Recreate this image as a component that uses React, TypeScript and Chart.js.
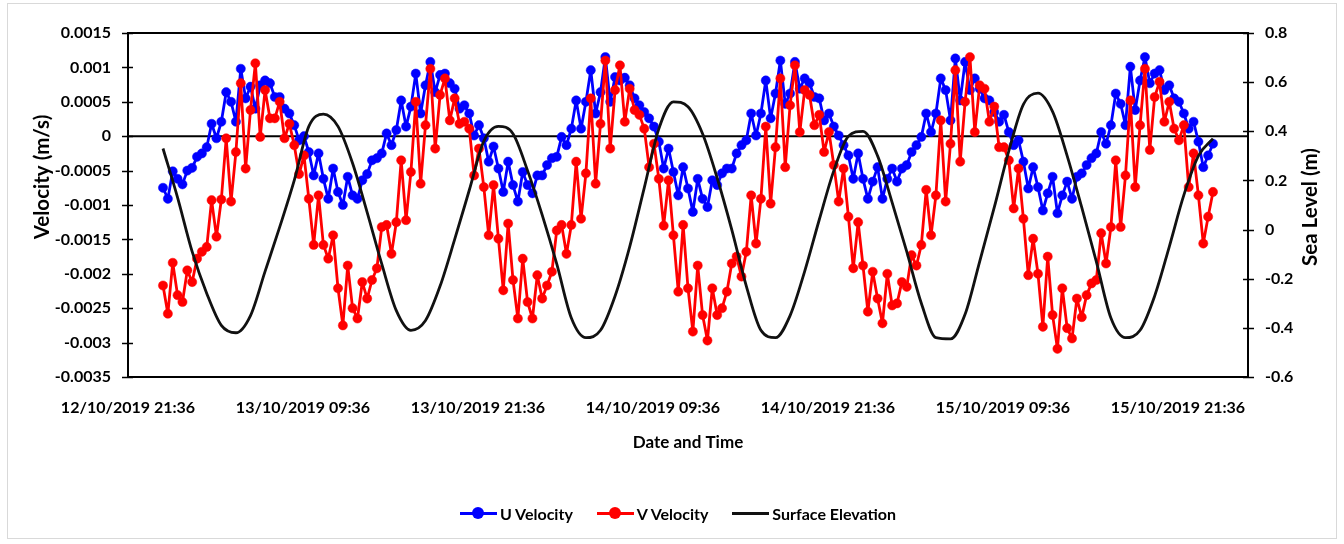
import React, { useEffect, useRef } from 'react';
import { Chart, registerables } from 'chart.js';

Chart.register(...registerables);

// ---------- axis definitions ----------
// x values are hours counted from 12/10/2019 21:36
const X_MIN_HOURS = 0;
const X_MAX_HOURS = 76.8;
const X_TICK_HOURS = [0, 12, 24, 36, 48, 60, 72];
const X_TICK_LABELS = [
  '12/10/2019 21:36',
  '13/10/2019 09:36',
  '13/10/2019 21:36',
  '14/10/2019 09:36',
  '14/10/2019 21:36',
  '15/10/2019 09:36',
  '15/10/2019 21:36',
];

const Y_LEFT_TICKS = [-0.0035, -0.003, -0.0025, -0.002, -0.0015, -0.001, -0.0005, 0, 0.0005, 0.001, 0.0015];
const Y_LEFT_LABELS = ['-0.0035', '-0.003', '-0.0025', '-0.002', '-0.0015', '-0.001', '-0.0005', '0', '0.0005', '0.001', '0.0015'];
const Y_RIGHT_TICKS = [-0.6, -0.4, -0.2, 0, 0.2, 0.4, 0.6, 0.8];
const Y_RIGHT_LABELS = ['-0.6', '-0.4', '-0.2', '0', '0.2', '0.4', '0.6', '0.8'];

// ---------- series ----------
// velocity samples: every 20 minutes from 13/10/2019 00:00
const VELOCITY_START_HOURS = 2.4;
const VELOCITY_STEP_HOURS = 1 / 3;
const VELOCITY_UNIT = 1e-4; // values below are in 1e-4 m/s

const U_VELOCITY = [
  -7.5, -9.1, -5.1, -6.2, -7.0, -5.0, -4.6, -3.0, -2.5, -1.6,
  1.8, -0.3, 2.1, 6.4, 5.0, 2.1, 9.8, 5.5, 7.2, 4.0,
  7.4, 8.1, 7.7, 5.7, 5.7, 4.0, 3.3, 1.6, -0.6, 0.0,
  -2.3, -5.7, -2.5, -6.2, -9.1, -4.7, -8.1, -10.0, -5.9, -8.6,
  -9.1, -6.4, -5.5, -3.5, -3.2, -2.5, 0.4, -1.3, 0.9, 5.2,
  1.4, 4.3, 9.1, 3.3, 7.4, 10.8, 6.4, 8.9, 9.1, 7.7,
  6.9, 4.0, 4.5, 3.3, 0.1, 1.6, -0.3, -3.7, -1.5, -4.7,
  -8.1, -3.7, -7.1, -9.5, -5.2, -7.1, -8.3, -5.7, -5.7, -4.2,
  -3.2, -3.0, -0.1, -1.3, 1.1, 5.2, 1.1, 5.0, 9.6, 3.3,
  6.4, 11.5, 5.0, 8.6, 8.1, 8.5, 7.4, 5.5, 4.5, 3.5,
  2.6, 1.4, -0.8, -4.7, -1.8, -5.2, -8.6, -4.5, -7.6, -11.0,
  -6.2, -9.1, -10.3, -6.4, -7.1, -5.4, -4.7, -4.7, -2.5, -1.3,
  -0.6, 3.3, 0.1, 3.3, 8.1, 2.6, 6.2, 11.0, 4.7, 6.2,
  10.8, 6.9, 8.4, 7.7, 5.7, 5.5, 2.3, 3.3, 1.4, 0.1,
  -1.3, -2.8, -6.2, -2.5, -6.2, -9.1, -6.6, -4.5, -9.1, -6.2,
  -4.7, -6.6, -4.7, -4.2, -2.3, -1.3, -0.1, 3.3, 0.6, 3.3,
  8.4, 6.7, 2.3, 11.3, 5.2, 10.8, 6.7, 8.4, 6.9, 5.5,
  5.2, 3.5, 2.1, 3.1, 0.6, -1.3, -0.6, -3.7, -7.6, -4.5,
  -7.4, -10.8, -8.3, -5.9, -11.2, -8.6, -6.6, -9.1, -5.9, -5.4,
  -4.2, -3.2, -2.5, 0.6, -1.1, 1.6, 6.2, 4.7, 1.6, 10.1,
  3.8, 8.1, 11.5, 7.7, 9.1, 9.6, 6.7, 7.4, 5.5, 5.0,
  3.3, 1.1, 2.1, -0.8, -4.5, -2.8, -1.1,
];

const V_VELOCITY = [
  -21.7, -25.8, -18.4, -23.1, -24.1, -19.5, -21.2, -17.8, -16.8, -16.1,
  -9.3, -14.6, -9.2, -0.3, -9.5, -2.3, 7.7, -4.7, 3.8, 10.6,
  -0.1, 6.7, 2.6, 2.6, 5.0, -0.3, 1.8, -1.3, -5.5, -2.8,
  -9.1, -15.8, -8.6, -15.8, -17.8, -14.4, -22.1, -27.5, -18.8, -25.0,
  -26.5, -21.2, -23.6, -20.9, -19.2, -13.2, -12.9, -17.1, -12.5, -3.5,
  -12.2, -5.2, 5.0, -6.9, 1.6, 9.8, -1.8, 6.0, 8.4, 2.3,
  5.5, 1.8, 2.1, 1.1, -5.7, -1.8, -7.4, -14.4, -7.1, -14.9,
  -22.4, -12.7, -20.9, -26.5, -17.8, -24.1, -26.5, -20.2, -23.6, -21.7,
  -19.7, -13.7, -12.9, -17.1, -12.9, -3.7, -12.0, -5.4, 5.5, -6.9,
  1.8, 11.0, -1.8, 6.7, 10.3, 2.1, 6.9, 3.8, 3.1, 1.1,
  -4.5, -1.1, -6.2, -13.0, -6.4, -14.4, -22.6, -12.9, -22.1, -28.4,
  -18.8, -26.0, -29.7, -22.1, -26.0, -25.0, -22.6, -18.5, -17.5, -20.4,
  -16.8, -8.6, -15.6, -9.1, 1.4, -9.8, -1.6, 8.4, -4.5, 4.5,
  10.3, 0.6, 6.7, 6.0, 1.6, 3.1, -2.3, 0.6, -4.2, -9.5,
  -4.7, -11.7, -19.2, -12.5, -18.8, -25.5, -19.7, -23.6, -27.2, -20.0,
  -24.6, -24.3, -21.2, -21.9, -17.3, -18.8, -15.8, -7.8, -14.4, -8.6,
  2.3, -9.5, -1.1, 9.6, -3.7, 5.0, 11.5, 0.6, 7.4, 6.9,
  2.1, 4.3, -1.6, -1.6, -3.5, -10.5, -4.7, -12.0, -20.2, -14.9,
  -20.0, -27.7, -17.5, -26.0, -30.9, -22.1, -27.9, -29.4, -23.6, -26.3,
  -23.1, -21.4, -20.9, -14.1, -18.5, -13.2, -3.5, -13.2, -5.7, 5.2,
  -7.4, 1.6, 9.8, -2.0, 5.7, 7.9, 2.1, 5.0, 1.1, -0.6,
  1.6, -7.4, -2.5, -8.6, -15.6, -11.7, -8.1,
];

// surface elevation: hourly from 13/10/2019 00:00 (m)
const SURFACE_START_HOURS = 2.4;
const SURFACE_STEP_HOURS = 1;
const SURFACE_ELEVATION = [
  0.33, 0.13, -0.09, -0.26, -0.39, -0.42, -0.35, -0.17, 0.01, 0.2,
  0.42, 0.47, 0.42, 0.27, 0.07, -0.14, -0.33, -0.41, -0.37, -0.23,
  -0.04, 0.16, 0.36, 0.42, 0.39, 0.24, 0.06, -0.14, -0.36, -0.44,
  -0.41, -0.27, -0.07, 0.17, 0.41, 0.52, 0.5, 0.39, 0.21, 0.0,
  -0.23, -0.41, -0.44, -0.35, -0.17, 0.04, 0.24, 0.38, 0.4, 0.3,
  0.11, -0.09, -0.3, -0.44, -0.445, -0.345, -0.13, 0.09, 0.32, 0.51,
  0.555, 0.48, 0.3, 0.09, -0.13, -0.36, -0.44, -0.41, -0.27, -0.07,
  0.14, 0.3, 0.37,
];

const SERIES = [
  { label: 'U Velocity', color: '#0000FF', marker: true },
  { label: 'V Velocity', color: '#FF0000', marker: true },
  { label: 'Surface Elevation', color: '#111111', marker: false },
];

const FONT = 'Lato, "Open Sans", sans-serif';

function labelFor(values: number[], labels: string[], v: number) {
  const idx = values.findIndex((t) => Math.abs(t - v) < 1e-9);
  return idx >= 0 ? labels[idx] : '';
}

const excelFramePlugin = {
  id: 'excelFrame',
  beforeDatasetsDraw(chart: any) {
    const { ctx, chartArea: a, scales } = chart;
    const y0 = scales.y.getPixelForValue(0);
    ctx.save();
    ctx.strokeStyle = '#000';
    ctx.lineWidth = 2;
    ctx.beginPath();
    ctx.moveTo(a.left, y0);
    ctx.lineTo(a.right, y0);
    ctx.stroke();
    ctx.restore();
  },
  afterDraw(chart: any) {
    const { ctx, chartArea: a, scales } = chart;
    ctx.save();
    ctx.strokeStyle = '#000';
    ctx.lineWidth = 2;
    ctx.strokeRect(a.left, a.top, a.right - a.left, a.bottom - a.top);
    ctx.lineWidth = 1.5;
    ctx.beginPath();
    Y_LEFT_TICKS.forEach((v) => {
      const y = Math.round(scales.y.getPixelForValue(v)) + 0.5;
      ctx.moveTo(a.left - 6, y);
      ctx.lineTo(a.left + 5, y);
    });
    Y_RIGHT_TICKS.forEach((v) => {
      const y = Math.round(scales.y1.getPixelForValue(v)) + 0.5;
      ctx.moveTo(a.right - 5, y);
      ctx.lineTo(a.right + 6, y);
    });
    ctx.stroke();

    ctx.fillStyle = '#000';
    ctx.textAlign = 'center';
    ctx.textBaseline = 'middle';
    // left title
    ctx.save();
    ctx.font = `bold 20.5px ${FONT}`;
    ctx.translate(a.left - 86, a.top + 144);
    ctx.rotate(-Math.PI / 2);
    ctx.fillText('Velocity (m/s)', 0, 0);
    ctx.restore();
    // right title
    ctx.save();
    ctx.font = `bold 20.5px ${FONT}`;
    ctx.translate(a.right + 62, (a.top + a.bottom) / 2 + 2);
    ctx.rotate(-Math.PI / 2);
    ctx.fillText('Sea Level (m)', 0, 0);
    ctx.restore();
    // x title
    ctx.font = `bold 17px ${FONT}`;
    ctx.fillText('Date and Time', 688, a.bottom + 66);
    ctx.restore();
  },
};

export default function App() {
  const canvasRef = useRef<HTMLCanvasElement | null>(null);

  useEffect(() => {
    if (!canvasRef.current) return;
    const uData = U_VELOCITY.map((v, i) => ({ x: VELOCITY_START_HOURS + i * VELOCITY_STEP_HOURS, y: v * VELOCITY_UNIT }));
    const vData = V_VELOCITY.map((v, i) => ({ x: VELOCITY_START_HOURS + i * VELOCITY_STEP_HOURS, y: v * VELOCITY_UNIT }));
    const sData = SURFACE_ELEVATION.map((v, i) => ({ x: SURFACE_START_HOURS + i * SURFACE_STEP_HOURS, y: v }));

    const tickFont = { family: FONT, size: 16, weight: 'bold' as const };

    const markerSeries = (s: any, data: any[], order: number) => ({
      label: s.label,
      data,
      yAxisID: 'y',
      borderColor: s.color,
      backgroundColor: s.color,
      pointBackgroundColor: s.color,
      pointBorderColor: s.color,
      borderWidth: 2.8,
      borderJoinStyle: 'round',
      borderCapStyle: 'round',
      pointRadius: 4.6,
      pointBorderWidth: 0.5,
      tension: 0,
      order,
    });

    const chart = new Chart(canvasRef.current, {
      type: 'line',
      data: {
        datasets: [
          {
            label: SERIES[2].label,
            data: sData,
            yAxisID: 'y1',
            borderColor: SERIES[2].color,
            borderWidth: 2.8,
            borderJoinStyle: 'round',
            pointRadius: 0,
            cubicInterpolationMode: 'monotone',
            order: 0,
          },
          markerSeries(SERIES[1], vData, 1),
          markerSeries(SERIES[0], uData, 2),
        ],
      },
      options: {
        animation: false,
        responsive: false,
        devicePixelRatio: 1,
        events: [],
        layout: { padding: { top: 33, bottom: 87, left: 0, right: 0 } },
        plugins: { legend: { display: false }, tooltip: { enabled: false }, title: { display: false } },
        scales: {
          x: {
            type: 'linear',
            min: X_MIN_HOURS,
            max: X_MAX_HOURS,
            grid: { display: false, drawTicks: false },
            border: { display: false },
            afterBuildTicks: (s: any) => {
              s.ticks = X_TICK_HOURS.map((v) => ({ value: v }));
            },
            afterFit: (s: any) => {
              s.height = 80;
            },
            ticks: {
              autoSkip: false,
              maxRotation: 0,
              minRotation: 0,
              padding: 21,
              color: '#000',
              font: tickFont,
              callback: (v: any) => labelFor(X_TICK_HOURS, X_TICK_LABELS, Number(v)),
            },
          },
          y: {
            type: 'linear',
            position: 'left',
            min: -0.0035,
            max: 0.0015,
            grid: { display: false, drawTicks: false },
            border: { display: false },
            afterBuildTicks: (s: any) => {
              s.ticks = Y_LEFT_TICKS.map((v) => ({ value: v }));
            },
            afterFit: (s: any) => {
              s.width = 128;
            },
            ticks: {
              autoSkip: false,
              padding: 17,
              color: '#000',
              font: tickFont,
              callback: (v: any) => labelFor(Y_LEFT_TICKS, Y_LEFT_LABELS, Number(v)),
            },
          },
          y1: {
            type: 'linear',
            position: 'right',
            min: -0.6,
            max: 0.8,
            grid: { display: false, drawTicks: false },
            border: { display: false },
            afterBuildTicks: (s: any) => {
              s.ticks = Y_RIGHT_TICKS.map((v) => ({ value: v }));
            },
            afterFit: (s: any) => {
              s.width = 96;
            },
            ticks: {
              autoSkip: false,
              padding: 17,
              color: '#000',
              font: tickFont,
              callback: (v: any) => labelFor(Y_RIGHT_TICKS, Y_RIGHT_LABELS, Number(v)),
            },
          },
        },
      },
      plugins: [excelFramePlugin],
    } as any);

    return () => chart.destroy();
  }, []);

  return (
    <div style={{ position: 'fixed', left: 0, top: 0, width: 1344, height: 544, background: '#fff', overflow: 'hidden' }}>
      <div
        style={{
          position: 'absolute',
          left: 7,
          top: 3,
          width: 1330,
          height: 536,
          border: '1px solid #d9d9d9',
          boxSizing: 'border-box',
        }}
      />
      <canvas ref={canvasRef} width={1344} height={544} style={{ position: 'absolute', left: 0, top: 0, display: 'block' }} />
      <div
        style={{
          position: 'absolute',
          left: 6,
          top: 502,
          width: 1344,
          height: 22,
          display: 'flex',
          justifyContent: 'center',
          alignItems: 'center',
          gap: 24,
          fontFamily: FONT,
          fontWeight: 'bold',
          fontSize: 16,
          color: '#000',
        }}
      >
        {SERIES.map((s) => (
          <div key={s.label} style={{ display: 'flex', alignItems: 'center' }}>
            <div style={{ position: 'relative', width: 37, height: 20 }}>
              <div style={{ position: 'absolute', left: 0, right: 0, top: 8.5, height: 3, background: s.color }} />
              {s.marker && (
                <div
                  style={{
                    position: 'absolute',
                    left: 12.5,
                    top: 4,
                    width: 12,
                    height: 12,
                    borderRadius: '50%',
                    background: s.color,
                  }}
                />
              )}
            </div>
            <span style={{ marginLeft: 3, whiteSpace: 'nowrap' }}>{s.label}</span>
          </div>
        ))}
      </div>
    </div>
  );
}
